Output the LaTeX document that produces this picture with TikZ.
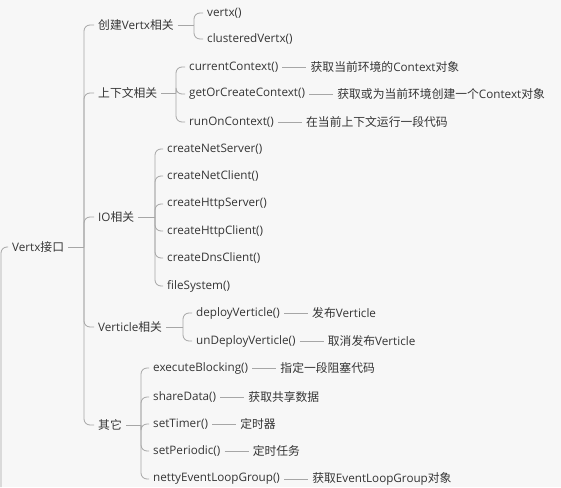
\documentclass[tikz,border=0pt]{standalone}
\usepackage{fontspec}
\setmainfont{Noto Sans CJK SC}
\newfontfamily\lat[Scale=0.99]{Open Sans}
\usepackage{tikz}
\usetikzlibrary{positioning, calc}

\definecolor{txt}{HTML}{353535}
\definecolor{edge}{HTML}{A6A6A6}
\definecolor{paper}{HTML}{F7F7F7}

\begin{document}
\begin{tikzpicture}[x=1pt, y=-1pt,
  every node/.style={font=\fontsize{11.8}{13}\selectfont, text=txt, inner xsep=4pt, inner ysep=2pt, anchor=west},
  call/.style={font=\fontsize{11.8}{13}\selectfont\lat},
  link/.style={draw=edge, line width=0.8pt, rounded corners=6pt},
  tie/.style={draw=edge, line width=0.8pt}]

% Background and frame
\fill[paper] (0,0) rectangle (561,487);
\useasboundingbox (0,0) rectangle (561,487);

% Root
\node (root) at (8,247) {{\lat Vertx}接口};
\coordinate (off) at (1,487);

% First level
\node (create) at (94,25) {创建{\lat Vertx}相关};
\node (ctx) at (94,93) {上下文相关};
\node (io) at (94,217) {{\lat IO}相关};
\node (verticle) at (94,327) {{\lat Verticle}相关};
\node (other) at (94,425) {其它};

% Create Vertx
\node[call] (vertx) at (203,13) {vertx()};
\node[call] (clustered) at (203,39) {clusteredVertx()};

% Context
\node[call] (cur) at (185,67) {currentContext()};
\node[call] (getor) at (185,94) {getOrCreateContext()};
\node[call] (runon) at (185,122) {runOnContext()};
\node (curnote) [right=24pt of cur] {获取当前环境的{\lat Context}对象};
\node (getornote) [right=24pt of getor] {获取或为当前环境创建一个{\lat Context}对象};
\node (runonnote) [right=24pt of runon] {在当前上下文运行一段代码};

% IO
\node[call] (netserver) at (163,149) {createNetServer()};
\node[call] (netclient) at (163,176) {createNetClient()};
\node[call] (httpserver) at (163,204) {createHttpServer()};
\node[call] (httpclient) at (163,231) {createHttpClient()};
\node[call] (dnsclient) at (163,258) {createDnsClient()};
\node[call] (filesys) at (163,286) {fileSystem()};

% Verticle
\node[call] (deploy) at (192,313) {deployVerticle()};
\node[call] (undeploy) at (192,341) {unDeployVerticle()};
\node (deploynote) [right=24pt of deploy] {发布{\lat Verticle}};
\node (undeploynote) [right=24pt of undeploy] {取消发布{\lat Verticle}};

% Others
\node[call] (blocking) at (149,368) {executeBlocking()};
\node[call] (share) at (149,397) {shareData()};
\node[call] (timer) at (149,424) {setTimer()};
\node[call] (periodic) at (149,451) {setPeriodic()};
\node[call] (netty) at (149,479) {nettyEventLoopGroup()};
\node (blockingnote) [right=24pt of blocking] {指定一段阻塞代码};
\node (sharenote) [right=24pt of share] {获取共享数据};
\node (timernote) [right=24pt of timer] {定时器};
\node (periodicnote) [right=24pt of periodic] {定时任务};
\node (nettynote) [right=24pt of netty] {获取{\lat EventLoopGroup}对象};

% Draw branches
\draw[link] (root.west) -| (off);
\draw[link] (root.east) -- (root.east -| 84,0) coordinate (s0);
\foreach \c in {create,ctx,io,verticle,other} \draw[link] (s0) |- (\c.west);

\draw[link] (create.east) -- (create.east -| 194,0) coordinate (s1);
\foreach \c in {vertx,clustered} \draw[link] (s1) |- (\c.west);

\draw[link] (ctx.east) -- (ctx.east -| 176,0) coordinate (s2);
\foreach \c in {cur,getor,runon} \draw[link] (s2) |- (\c.west);

\draw[link] (io.east) -- (io.east -| 155,0) coordinate (s3);
\foreach \c in {netserver,netclient,httpserver,httpclient,dnsclient,filesys} \draw[link] (s3) |- (\c.west);

\draw[link] (verticle.east) -- (verticle.east -| 183,0) coordinate (s4);
\foreach \c in {deploy,undeploy} \draw[link] (s4) |- (\c.west);

\draw[link] (other.east) -- (other.east -| 141,0) coordinate (s5);
\foreach \c in {blocking,share,timer,periodic,netty} \draw[link] (s5) |- (\c.west);

% Draw notes
\foreach \f/\n in {cur/curnote,getor/getornote,runon/runonnote,deploy/deploynote,undeploy/undeploynote,blocking/blockingnote,share/sharenote,timer/timernote,periodic/periodicnote,netty/nettynote}
  \draw[tie] (\f) -- (\n);

\end{tikzpicture}
\end{document}
